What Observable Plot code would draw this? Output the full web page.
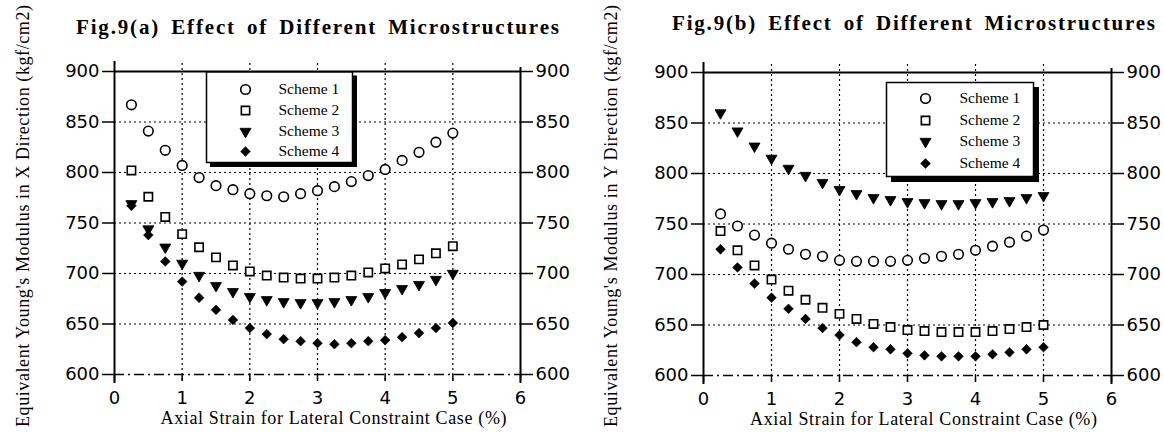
<!DOCTYPE html>
<html>
<head>
<meta charset="utf-8">
<script src="https://cdn.jsdelivr.net/npm/d3@7"></script>
<script src="https://cdn.jsdelivr.net/npm/@observablehq/plot@0.6"></script>
<style>
  body { margin: 0; background: #fff; }
  #chart { position: relative; width: 1164px; height: 432px; background: #fff; }
  .panel { position: absolute; top: 0; }
</style>
</head>
<body>
<div id="chart"></div>
<script>
// ---- data ----
const strain = [0.25, 0.5, 0.75, 1.0, 1.25, 1.5, 1.75, 2.0, 2.25, 2.5, 2.75, 3.0, 3.25, 3.5, 3.75, 4.0, 4.25, 4.5, 4.75, 5.0];
const schemes = ["Scheme 1", "Scheme 2", "Scheme 3", "Scheme 4"];
const xTicks = [0, 1, 2, 3, 4, 5, 6];
const yTicks = [600, 650, 700, 750, 800, 850, 900];
const gridXValues = [1, 2, 3, 4, 5];
const gridYValues = [650, 700, 750, 800, 850];

// Fig.9(a): modulus in X direction
const modX1 = [867, 841, 822, 807, 795, 787, 783, 779, 777, 776, 779, 782, 786, 791, 797, 803, 812, 820, 830, 839];
const modX2 = [802, 776, 756, 739, 726, 716, 708, 702, 698, 696, 695, 695, 696, 698, 701, 705, 709, 714, 720, 727];
const modX3 = [769, 744, 726, 710, 698, 688, 682, 677, 674, 672, 671, 671, 672, 674, 677, 681, 685, 689, 694, 700];
const modX4 = [767, 738, 712, 692, 676, 664, 654, 646, 640, 635, 633, 631, 630, 631, 633, 634, 637, 641, 646, 651];

// Fig.9(b): modulus in Y direction
const modY1 = [760, 748, 739, 731, 725, 720, 718, 714, 713, 713, 713, 714, 716, 718, 720, 724, 728, 732, 738, 744];
const modY2 = [743, 724, 709, 695, 684, 675, 667, 661, 656, 651, 648, 645, 644, 643, 643, 643, 644, 646, 648, 650];
const modY3 = [860, 842, 827, 815, 805, 798, 791, 784, 780, 776, 774, 772, 771, 770, 770, 771, 772, 773, 776, 778];
const modY4 = [725, 707, 691, 677, 666, 656, 647, 640, 633, 628, 626, 622, 620, 619, 619, 619, 621, 623, 626, 628];

const titles = ["Fig.9(a) Effect of Different Microstructures", "Fig.9(b) Effect of Different Microstructures"];
const yTitles = ["Equivalent Young's Modulus in X Direction (kgf/cm2)", "Equivalent Young's Modulus in Y Direction (kgf/cm2)"];
const xTitle = "Axial Strain for Lateral Constraint Case (%)";

// ---- styles ----
const symbolStyles = [
  {symbol: "circle", r: 4.8, fill: "white", stroke: "black", strokeWidth: 1.6},
  {symbol: "square", r: 4.7, fill: "white", stroke: "black", strokeWidth: 1.6},
  {symbol: "triangle", r: 4.1, rotate: 180, fill: "black", stroke: "black", strokeWidth: 0.8},
  {symbol: "square", r: 3.9, rotate: 45, fill: "black", stroke: "black", strokeWidth: 0.5}
];

const serif = "'Liberation Serif', 'Times New Roman', serif";

function makePanel(cfg) {
  const seriesMarks = cfg.series.map((vals, k) =>
    Plot.dot(strain.map((s, i) => ({x: s, y: vals[i]})), {x: "x", y: "y", ...symbolStyles[k]})
  );
  const lg = cfg.legend;
  const legendMarks = [
    Plot.frame({fill: "black", stroke: "black", insetLeft: lg.left + lg.shadow, insetTop: lg.top + lg.shadow, insetRight: lg.right - lg.shadow, insetBottom: lg.bottom - lg.shadow}),
    Plot.frame({fill: "white", stroke: "black", strokeWidth: 1.5, insetLeft: lg.left, insetTop: lg.top, insetRight: lg.right, insetBottom: lg.bottom})
  ];
  schemes.forEach((name, k) => {
    legendMarks.push(Plot.dot([name], {frameAnchor: "top-left", dx: lg.symX, dy: lg.rows[k], ...symbolStyles[k]}));
    legendMarks.push(Plot.text([name], {text: d => d, frameAnchor: "top-left", dx: lg.textX, dy: lg.rows[k], textAnchor: "start", lineAnchor: "middle", fontFamily: serif, fontSize: 15.5}));
  });

  return Plot.plot({
    width: 582,
    height: 432,
    marginLeft: cfg.ml,
    marginRight: cfg.mr,
    marginTop: cfg.mt,
    marginBottom: cfg.mb,
    x: {domain: [0, 6]},
    y: {domain: [600, 900]},
    style: {background: "white", color: "black", fontFamily: "'DejaVu Sans', sans-serif", fontSize: "18px", overflow: "visible"},
    marks: [
      Plot.ruleX(gridXValues, {stroke: "black", strokeWidth: 1.2, strokeDasharray: "2,3", insetTop: -8, insetBottom: -6}),
      Plot.ruleY(gridYValues, {stroke: "black", strokeWidth: 1.2, strokeDasharray: "2,3"}),
      Plot.ruleY([600], {stroke: "black", strokeWidth: 1.4, strokeDasharray: "10,4,2,4"}),
      Plot.ruleY([900], {stroke: "black", strokeWidth: 2}),
      Plot.ruleX([0], {stroke: "black", strokeWidth: 2, insetTop: -10, insetBottom: -9}),
      Plot.ruleX([6], {stroke: "black", strokeWidth: 2, insetTop: -4, insetBottom: -9}),
      Plot.axisY({anchor: "left", ticks: yTicks, tickSize: 12, tickPadding: 3, fontSize: 18, label: null, strokeWidth: 1.5}),
      Plot.axisY({anchor: "right", ticks: yTicks, tickSize: 12, tickPadding: 3, fontSize: 18, label: null, strokeWidth: 1.5}),
      Plot.axisX({ticks: xTicks, tickFormat: d3.format("d"), tickSize: 7, tickPadding: 10, fontSize: 18, label: null, strokeWidth: 1.5}),
      ...seriesMarks,
      ...legendMarks,
      Plot.text([cfg.title], {text: d => d, frameAnchor: "top", dx: cfg.titleDx, dy: cfg.titleDy, lineAnchor: "bottom", textAnchor: "middle", fontFamily: serif, fontWeight: "bold", fontSize: 21}),
      Plot.text([cfg.ytitle], {text: d => d, frameAnchor: "left", dx: cfg.yTitleDx, dy: cfg.yTitleDy, rotate: -90, textAnchor: "middle", lineAnchor: "middle", fontFamily: serif, fontSize: 18}),
      Plot.text([xTitle], {text: d => d, frameAnchor: "bottom", dx: cfg.xTitleDx, dy: 44, textAnchor: "middle", lineAnchor: "middle", fontFamily: serif, fontSize: 18})
    ]
  });
}

const panelCfgs = [
  {
    ml: 114, mr: 62, mt: 71, mb: 58,
    series: [modX1, modX2, modX3, modX4],
    title: titles[0], titleDx: 0, titleDy: -38,
    ytitle: yTitles[0], yTitleDx: -91, yTitleDy: -7,
    xTitleDx: 16,
    lengths: [483, 422, 346],
    legend: {left: 92, top: 0.5, right: 168, bottom: 212, shadow: 4, symX: 131, textX: 164, rows: [18, 39, 60, 80]}
  },
  {
    ml: 121, mr: 53, mt: 72, mb: 57,
    series: [modY1, modY2, modY3, modY4],
    title: titles[1], titleDx: 6, titleDy: -43,
    ytitle: yTitles[1], yTitleDx: -92, yTitleDy: -8,
    xTitleDx: 16,
    lengths: [483, 422, 347],
    legend: {left: 183, top: 10, right: 78, bottom: 199, shadow: 5, symX: 222, textX: 256, rows: [26, 48, 69, 91]}
  }
];

const chart = document.getElementById("chart");
panelCfgs.forEach((cfg, i) => {
  const svg = makePanel(cfg);
  svg.classList.add("panel");
  svg.style.left = (i * 582) + "px";
  chart.append(svg);
  // spread text so each label reaches the extent seen in the reference
  const targets = [cfg.title, cfg.ytitle, xTitle];
  const wordGaps = [4, 0, 0];
  const texts = Array.from(svg.querySelectorAll("text"));
  targets.forEach((str, j) => {
    const el = texts.find(t => t.textContent === str);
    if (!el) return;
    el.style.wordSpacing = wordGaps[j] + "px";
    const natural = el.getComputedTextLength();
    const n = str.length - 1;
    if (natural > 0 && n > 0) {
      const ls = (cfg.lengths[j] - natural) / n;
      el.style.letterSpacing = ls + "px";
      el.setAttribute("dx", (ls / 2) + "");
    }
  });
});
</script>
</body>
</html>
